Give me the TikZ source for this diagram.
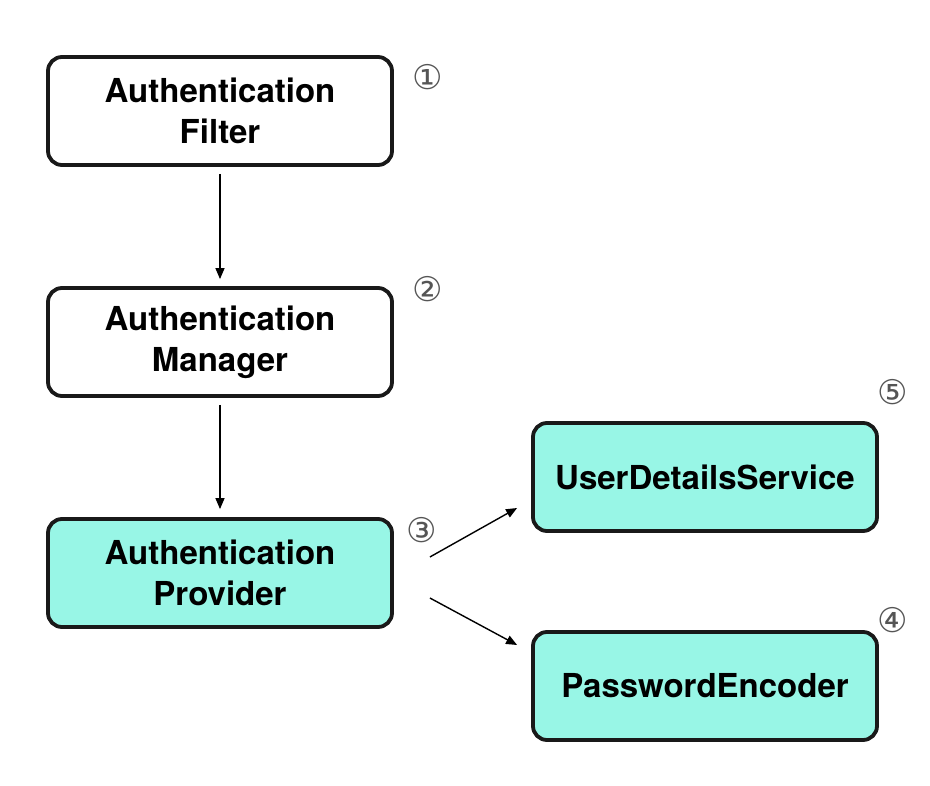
\documentclass[tikz,border=0pt]{standalone}
\usepackage{fontspec}
\setmainfont{TeX Gyre Heros}
\newfontfamily\circfont{DejaVu Sans}
\usetikzlibrary{arrows.meta}
\definecolor{mint}{RGB}{152,246,230}
\definecolor{numgray}{RGB}{85,85,85}
\begin{document}
\begin{tikzpicture}[x=1pt,y=-1pt,
  box/.style={rectangle,rounded corners=14pt,minimum width=344pt,minimum height=108pt,
    align=center,font=\fontsize{33}{41}\selectfont\bfseries,
    draw=black!90,line width=3.8pt},
  wbox/.style={box,fill=white},
  cbox/.style={box,fill=mint},
  num/.style={font=\circfont\fontsize{34}{34}\selectfont,text=numgray,inner sep=0pt},
  arr/.style={-{Triangle[length=11pt,width=9pt]},line width=1.4pt}]
\useasboundingbox (0,0) rectangle (930,786);
\node[wbox] (af) at (220,111) {Authentication\\Filter};
\node[wbox] (am) at (220,342) {Authentication\\Manager};
\node[cbox] (ap) at (220,573) {Authentication\\Provider};
\node[cbox] (uds) at (705,477) {UserDetailsService};
\node[cbox] (pe) at (705,686) {PasswordEncoder};
\node[num] (n1) at (428,77) {①};
\node[num] (n2) at (428,289) {②};
\node[num] (n3) at (422,530) {③};
\node[num] (n5) at (893,392) {⑤};
\node[num] (n4) at (893,620) {④};
\draw[arr] ([yshift=-7pt]af.south) -- ([yshift=7pt]am.north);
\draw[arr] ([yshift=-7pt]am.south) -- ([yshift=8pt]ap.north);
\draw[arr] ([xshift=36pt,yshift=16pt]ap.east) -- ([xshift=-14pt,yshift=-31pt]uds.west);
\draw[arr] ([xshift=36pt,yshift=-25pt]ap.east) -- ([xshift=-14pt,yshift=41pt]pe.west);
\end{tikzpicture}
\end{document}
